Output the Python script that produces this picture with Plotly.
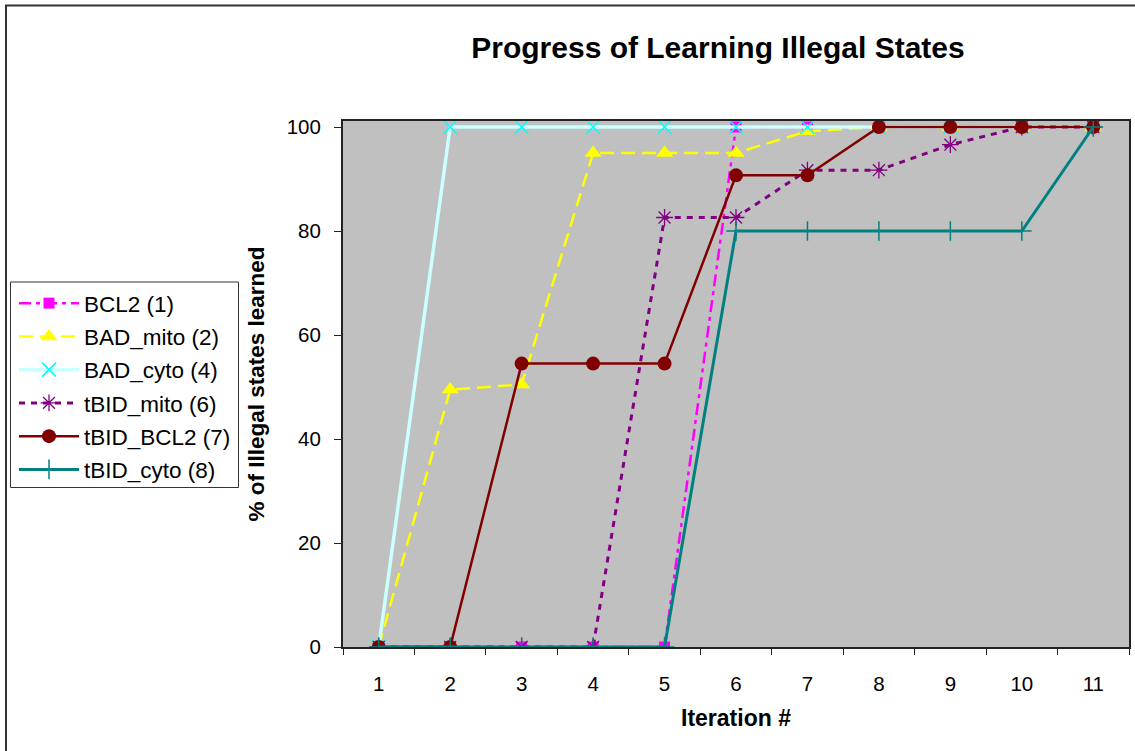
import plotly.graph_objects as go

# Iteration categories on the x axis
iterations = ["1", "2", "3", "4", "5", "6", "7", "8", "9", "10", "11"]

# Percentage of illegal states learned per protein state
bcl2 = [0, 0, 0, 0, 0, 100, 100, 100, 100, 100, 100]
bad_mito = [0, 49.5, 50.5, 95, 95, 95, 99.2, 100, 100, 100, 100]
bad_cyto = [0, 100, 100, 100, 100, 100, 100, 100, 100, 100, 100]
tbid_mito = [0, 0, 0, 0, 82.6, 82.6, 91.7, 91.7, 96.6, 100, 100]
tbid_bcl2 = [0, 0, 54.5, 54.5, 54.5, 90.7, 90.7, 100, 100, 100, 100]
tbid_cyto = [0, 0, 0, 0, 0, 80, 80, 80, 80, 80, 100]

y_ticks = [0, 20, 40, 60, 80, 100]

W, H = 1135, 751
L, R, T, B = 343, 1129, 121, 647  # plot area edges in pixels
Y_MAX = 100 + (127 - T) / 5.2


def px_x(p):
    return (p - L) / (R - L)


def px_y(p):
    return (B - p) / (B - T)


FONT = "Liberation Sans, Arial, sans-serif"

fig = go.Figure()

fig.add_trace(go.Scatter(
    x=iterations, y=bcl2, name="BCL2 (1)", mode="lines+markers",
    line=dict(color="#FF00FF", width=2.5, dash="12px,5px,4px,5px"),
    marker=dict(symbol="square", size=11, color="#FF00FF"),
    legendgroup="a",
))
fig.add_trace(go.Scatter(
    x=iterations, y=bad_mito, name="BAD_mito (2)", mode="lines+markers",
    line=dict(color="#FFFF00", width=2.5, dash="14px,7px"),
    marker=dict(symbol="triangle-up", size=15, color="#FFFF00"),
    legendgroup="b",
))
fig.add_trace(go.Scatter(
    x=iterations, y=bad_cyto, name="BAD_cyto (4)", mode="lines+markers",
    line=dict(color="#CCFFFF", width=3.5),
    marker=dict(symbol="x-thin", size=14, color="#00FFFF",
                line=dict(color="#00FFFF", width=1.5)),
    legendgroup="c",
))
fig.add_trace(go.Scatter(
    x=iterations, y=tbid_mito, name="tBID_mito (6)", mode="lines+markers",
    line=dict(color="#800080", width=3, dash="6px,6px"),
    marker=dict(symbol="asterisk-open", size=14, color="#800080",
                line=dict(color="#800080", width=1.3)),
    legendgroup="d",
))
fig.add_trace(go.Scatter(
    x=iterations, y=tbid_bcl2, name="tBID_BCL2 (7)", mode="lines+markers",
    line=dict(color="#800000", width=2.5),
    marker=dict(symbol="circle", size=14, color="#800000"),
    legendgroup="e",
))
fig.add_trace(go.Scatter(
    x=iterations, y=tbid_cyto, name="tBID_cyto (8)", mode="lines+markers",
    line=dict(color="#008080", width=3),
    marker=dict(symbol="cross-thin", size=14, color="#008080",
                line=dict(color="#008080", width=1.5)),
    legendgroup="f",
))

shapes = [
    # outer chart frame (left and top edges)
    dict(type="path", xref="paper", yref="paper", layer="above",
         path=f"M {px_x(6)} {px_y(H + 10)} L {px_x(6)} {px_y(5.5)} L {px_x(W + 10)} {px_y(5.5)}",
         line=dict(color="#333333", width=2)),
    # legend box
    dict(type="rect", xref="paper", yref="paper", layer="below",
         x0=px_x(10.5), x1=px_x(238.5), y0=px_y(487.5), y1=px_y(282),
         line=dict(color="#333333", width=1), fillcolor="white"),
]

fig.update_layout(
    width=W, height=H,
    margin=dict(l=L, r=W - R, t=T, b=H - B, autoexpand=False),
    paper_bgcolor="white", plot_bgcolor="#C0C0C0",
    font=dict(family=FONT, size=20, color="black"),
    title=dict(text="<b>Progress of Learning Illegal States</b>",
               font=dict(family=FONT, size=30, color="black"),
               xref="container", x=718 / W, xanchor="center",
               yref="container", y=1 - 47 / H, yanchor="middle"),
    showlegend=True,
    legend=dict(xref="container", yref="container",
                x=14 / W, xanchor="left", y=1 - 282 / H, yanchor="top",
                bgcolor="rgba(0,0,0,0)", borderwidth=0,
                font=dict(family=FONT, size=22.5, color="black"),
                tracegroupgap=1, itemwidth=60),
    shapes=shapes,
)

fig.update_xaxes(
    type="category", categoryorder="array", categoryarray=iterations,
    range=[-0.5, 10.5], tickson="boundaries",
    ticks="outside", ticklen=6, tickwidth=1, tickcolor="#222222",
    showline=True, linecolor="#222222", linewidth=2, mirror=True,
    showgrid=False, zeroline=False, ticklabelstandoff=17,
    tickfont=dict(family=FONT, size=20.5, color="black"),
    title=dict(text="<b>Iteration #</b>", standoff=16,
               font=dict(family=FONT, size=23, color="black")),
)
fig.update_yaxes(
    range=[0, Y_MAX], tickmode="array", tickvals=y_ticks,
    ticks="outside", ticklen=7, tickwidth=1, tickcolor="#222222",
    showline=True, linecolor="#222222", linewidth=2, mirror=True,
    showgrid=False, zeroline=False, ticklabelstandoff=9,
    tickfont=dict(family=FONT, size=20.5, color="black"),
    title=dict(text="<b>% of Illegal states learned</b>", standoff=16,
               font=dict(family=FONT, size=22.5, color="black")),
)

fig.write_html("out.html")
